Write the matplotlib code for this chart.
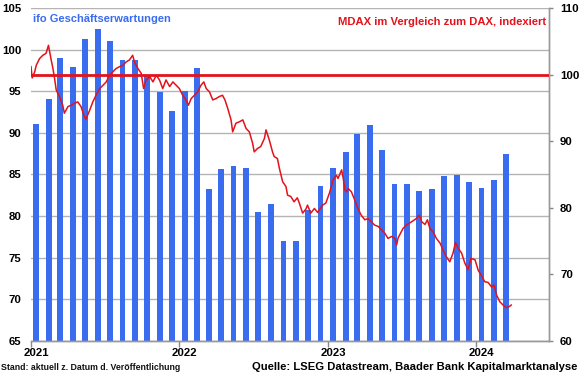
import matplotlib
matplotlib.use("Agg")
import matplotlib.pyplot as plt
import pandas as pd

plt.rcParams['font.family'] = ['Liberation Sans', 'DejaVu Sans']
plt.rcParams['font.weight'] = 'bold'

# ---- data ----
bar_months = pd.date_range("2021-01-01", "2024-03-01", freq="MS")
ifo_expectations = [
    91.1, 94.1, 99.0, 97.9, 101.3, 102.5, 101.0, 98.7, 98.8, 96.8, 94.9, 92.6,
    95.0, 97.8, 83.3, 85.7, 86.0, 85.8, 80.5, 81.5, 77.0, 77.0, 80.7, 83.6,
    85.8, 87.7, 89.9, 91.0, 87.9, 83.8, 83.8, 83.0, 83.3, 84.8, 84.9, 84.1,
    83.4, 84.3, 87.5,
]

mdax_dates = [
    "2021-01-01", "2021-01-04", "2021-01-10", "2021-01-14", "2021-01-22", "2021-01-30",
    "2021-02-07", "2021-02-13", "2021-02-19", "2021-02-24", "2021-02-28", "2021-03-04",
    "2021-03-12", "2021-03-20", "2021-03-24", "2021-04-02", "2021-04-10", "2021-04-18",
    "2021-04-26", "2021-05-04", "2021-05-11", "2021-05-16", "2021-05-25", "2021-06-02",
    "2021-06-10", "2021-06-19", "2021-06-27", "2021-07-05", "2021-07-13", "2021-07-21",
    "2021-07-29", "2021-08-07", "2021-08-15", "2021-08-23", "2021-08-31", "2021-09-08",
    "2021-09-13", "2021-09-21", "2021-09-29", "2021-10-05", "2021-10-11", "2021-10-20",
    "2021-10-28", "2021-11-05", "2021-11-13", "2021-11-21", "2021-11-29", "2021-12-08",
    "2021-12-16", "2021-12-24", "2022-01-01", "2022-01-09", "2022-01-17", "2022-01-23",
    "2022-01-30", "2022-02-07", "2022-02-15", "2022-02-23", "2022-03-02", "2022-03-08",
    "2022-03-16", "2022-03-24", "2022-04-01", "2022-04-09", "2022-04-17", "2022-04-23",
    "2022-04-30", "2022-05-08", "2022-05-12", "2022-05-20", "2022-05-28", "2022-06-06",
    "2022-06-14", "2022-06-22", "2022-06-30", "2022-07-04", "2022-07-12", "2022-07-20",
    "2022-07-29", "2022-08-02", "2022-08-10", "2022-08-18", "2022-08-22", "2022-08-30",
    "2022-09-04", "2022-09-12", "2022-09-20", "2022-09-24", "2022-10-02", "2022-10-10",
    "2022-10-18", "2022-10-23", "2022-10-31", "2022-11-08", "2022-11-12", "2022-11-20",
    "2022-11-29", "2022-12-07", "2022-12-19", "2022-12-27", "2023-01-05", "2023-01-14",
    "2023-01-22", "2023-01-26", "2023-02-04", "2023-02-08", "2023-02-12", "2023-02-16",
    "2023-02-20", "2023-02-28", "2023-03-08", "2023-03-16", "2023-03-24", "2023-04-02",
    "2023-04-10", "2023-04-18", "2023-04-26", "2023-05-05", "2023-05-13", "2023-05-21",
    "2023-05-29", "2023-06-07", "2023-06-15", "2023-06-19", "2023-06-23", "2023-07-05",
    "2023-07-13", "2023-07-26", "2023-08-07", "2023-08-14", "2023-08-20", "2023-08-28",
    "2023-09-03", "2023-09-09", "2023-09-17", "2023-09-25", "2023-10-04", "2023-10-12",
    "2023-10-20", "2023-10-28", "2023-11-05", "2023-11-11", "2023-11-18", "2023-11-26",
    "2023-12-04", "2023-12-12", "2023-12-19", "2023-12-29", "2024-01-06", "2024-01-14",
    "2024-01-22", "2024-01-30", "2024-02-08", "2024-02-14", "2024-02-20", "2024-02-28",
    "2024-03-07", "2024-03-15", "2024-03-23", "2024-03-27",
]
mdax_vs_dax = [
    101.2, 99.5, 100.4, 101.4, 102.4, 102.9,
    103.2, 104.4, 102.4, 100.9, 99.4, 97.7,
    96.7, 95.4, 94.2, 95.2, 95.4, 95.7,
    95.9, 95.2, 93.9, 93.3, 94.6, 95.9,
    96.9, 97.9, 98.4, 98.9, 99.9, 100.4,
    100.9, 101.2, 101.4, 101.9, 102.2, 102.9,
    101.8, 100.9, 100.2, 97.9, 99.2, 99.7,
    98.9, 99.9, 99.2, 97.9, 99.2, 98.2,
    98.9, 98.4, 97.9, 96.9, 96.2, 95.4,
    96.4, 96.9, 97.4, 98.4, 98.9, 97.9,
    97.4, 96.2, 96.4, 96.7, 96.9, 96.2,
    94.9, 93.2, 91.4, 92.7, 92.9, 93.2,
    91.9, 91.4, 89.7, 88.4, 88.9, 89.2,
    90.4, 91.7, 90.2, 88.4, 87.7, 87.4,
    85.9, 83.9, 83.2, 81.9, 81.7, 80.9,
    81.5, 80.7, 79.2, 79.8, 80.4, 79.2,
    79.9, 79.3, 80.4, 80.7, 82.2, 84.2,
    84.9, 84.4, 85.7, 84.4, 82.7, 82.4,
    82.9, 82.4, 81.2, 79.9, 78.9, 78.2,
    78.4, 77.9, 77.4, 77.2, 76.7, 76.2,
    75.4, 75.7, 75.4, 74.4, 75.5, 76.9,
    77.4, 77.9, 78.4, 78.9, 77.9, 77.5,
    78.2, 76.9, 76.4, 75.4, 74.7, 73.6,
    72.6, 71.9, 73.2, 74.8, 73.9, 73.2,
    71.7, 70.7, 72.4, 72.2, 70.6, 69.8,
    68.9, 68.8, 68.1, 68.4, 66.9, 65.9,
    65.4, 65.0, 65.2, 65.4,
]
reference_level = 100
left_ticks = [65, 70, 75, 80, 85, 90, 95, 100, 105]
right_ticks = [60, 70, 80, 90, 100, 110]
year_labels = ["2021", "2022", "2023", "2024"]

# ---- figure ----
fig = plt.figure(figsize=(5.8, 3.75), dpi=100)
ax1 = fig.add_axes([31/580, 1-341/375, (549-31)/580, (341-8)/375])
ax2 = ax1.twinx()

blue = '#3a6cf0'
red = '#e3121b'
grid_c = '#b4b4b4'
fs = 8.2

bar_x = bar_months + pd.Timedelta(days=13)
ax1.bar(bar_x, ifo_expectations, width=14.5, color=blue, zorder=2)
ax1.set_ylim(65, 105)
ax1.set_yticks(left_ticks)
ax1.yaxis.grid(True, color=grid_c, lw=1.0, zorder=0)
ax1.set_axisbelow(True)

ax2.axhline(reference_level, color=red, lw=2.0, zorder=3)
ax2.plot(pd.to_datetime(mdax_dates), mdax_vs_dax, color=red, lw=1.1, zorder=4)
ax2.set_ylim(60, 110)
ax2.set_yticks(right_ticks)

ax1.set_xlim(pd.Timestamp("2021-01-01"), pd.Timestamp("2024-06-28"))

years = pd.to_datetime([y + "-01-01" for y in year_labels])
ax1.set_xticks(years)
ax1.set_xticklabels([])
ax1.set_xticks(years + pd.Timedelta(days=13), minor=True)
ax1.set_xticklabels(year_labels, minor=True)
ax1.tick_params(axis='x', which='major', length=4, width=1, color='#888888', direction='out')
ax1.tick_params(axis='x', which='minor', length=0, pad=5, labelsize=fs)

ax1.tick_params(axis='y', length=0, pad=7, labelsize=fs)
ax2.tick_params(axis='y', length=3, width=1, color='#888888', pad=5, labelsize=fs)

for ax in (ax1, ax2):
    for s in ax.spines.values():
        s.set_color('#999999')
        s.set_linewidth(1.0)
    ax.spines['top'].set_visible(False)
ax1.spines['left'].set_visible(False)
ax2.spines['left'].set_visible(False)

for lbl in ax1.get_yticklabels() + ax2.get_yticklabels() + ax1.get_xticklabels(minor=True):
    lbl.set_fontweight('bold')

fig.text(33/580, 1-19/375, "ifo Geschäftserwartungen", color=blue, fontsize=8.0,
         fontweight='bold', ha='left', va='center')
fig.text(546/580, 1-22/375, "MDAX im Vergleich zum DAX, indexiert", color=red, fontsize=8.1,
         fontweight='bold', ha='right', va='center')
fig.text(1/580, 1-368/375, "Stand: aktuell z. Datum d. Veröffentlichung", color='#111111',
         fontsize=6.3, fontweight='bold', ha='left', va='center')
fig.text(577/580, 1-367/375, "Quelle: LSEG Datastream, Baader Bank Kapitalmarktanalyse",
         color='black', fontsize=8.1, fontweight='bold', ha='right', va='center')

fig.savefig("out.png", dpi=100)
